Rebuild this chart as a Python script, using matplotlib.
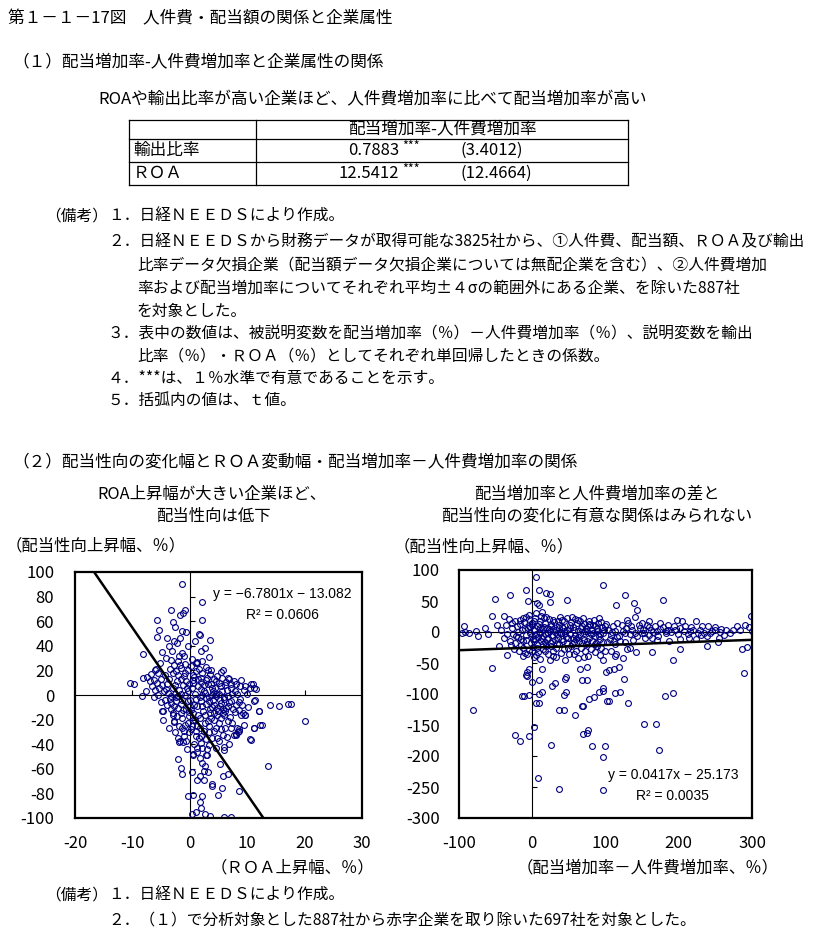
import matplotlib
matplotlib.use("Agg")
import matplotlib.pyplot as plt
from matplotlib.lines import Line2D
import numpy as np

plt.rcParams['font.family'] = ['Noto Sans CJK JP', 'DejaVu Sans']
plt.rcParams['axes.unicode_minus'] = False

# 表のデータ
table_head = '配当増加率-人件費増加率'
table_rows = ['輸出比率', 'ＲＯＡ']
table_coef = ['0.7883', '12.5412']
table_sig = ['***', '***']
table_tval = ['(3.4012)', '(12.4664)']

# 回帰式
left_slope, left_icpt, left_r2 = -6.7801, -13.082, 0.0606
right_slope, right_icpt, right_r2 = 0.0417, -25.173, 0.0035

# 左図: ROA上昇幅 vs 配当性向上昇幅 (目視で読み取り)
roa_pts = [
    (-1.4, 90), (2.2, 76), (-0.9, 69), (-3.2, 69), (-1.2, 67), (-1.7, 65), (2.2, 61), (-5.8, 61),
    (-3.0, 59), (-5.3, 53), (-3.9, 46), (-1.4, 52), (-0.6, 51), (1.6, 50), (1.8, 49), (-5.8, 47),
    (-2.7, 44), (-1.7, 46), (-2.3, 42), (1.9, 36), (3.4, 31), (-8.2, 33), (-4.9, 35), (-3.1, 36),
    (-1.3, 34), (-1.0, 32), (1.2, 27), (5.4, 19), (-9.8, 9), (-10.5, 10), (-8.3, -0.5), (-8.2, 14),
    (-7.4, 15), (-5.9, 21), (-4.8, -13), (-3.0, -15), (-2.7, -22),
    (7.7, 11), (8.8, 7), (8.6, -6), (9.2, -15), (9.7, -16), (10.5, 6), (11.0, 9), (11.5, 5),
    (11.3, -4), (12.1, -13), (13.9, -8), (15.6, -9), (17.1, -7), (17.7, -7), (20.0, -21), (11.2, -27),
    (12.5, -24), (10.5, -36), (8.5, -28), (8.4, -30), (8.0, -32), (13.6, -58), (8.6, -78),
    (-2.1, -35), (-1.1, -38), (-1.9, -38), (-2.1, -52), (-1.6, -59), (-1.3, -64), (0.3, -63), (0.5, -48),
    (1.2, -46), (-0.4, -82), (0.6, -81), (2.2, -82), (1.7, -87), (1.9, -92), (0.4, -97), (1.0, -95),
    (2.7, -97), (3.6, -98), (5.9, -99), (7.1, -99),
    (1.8, -51), (2.1, -55), (2.6, -58), (2.4, -62), (1.8, -66), (1.3, -69), (2.5, -69), (3.0, -49),
    (3.1, -63), (3.8, -72), (3.8, -74), (4.9, -81), (5.6, -76), (5.8, -66), (5.3, -56), (6.0, -45),
    (6.7, -64),
    (-6.1, 20.6), (-5.6, 17.9), (-6.2, 12.5), (-5.7, 9.8), (-5.3, 5.7), (-4.8, 8.4), (-4.5, 3.0), (-6.1, 4.3),
    (-3.3, 28.7), (-2.7, 24.7), (-1.9, 31.4), (-1.6, 22.0), (-2.4, 19.3), (-2.0, 16.6), (-1.0, 15.3),
    (-0.4, 20.6), (0.2, 23.3), (-0.7, 11.3), (-0.1, 8.6), (0.5, 12.6), (0.5, 16.6), (1.0, 19.3), (1.3, 26.0),
    (1.9, 10.2), (2.8, 12.6), (3.7, 8.6), (4.5, 11.3), (5.4, 7.0), (6.3, 10.2), (7.1, 5.7), (8.0, 8.6),
    (8.9, 12.6), (9.7, 7.0), (10.6, 8.6), (11.2, 5.7), (3.1, 20.6), (2.2, 17.9), (1.0, 26.0), (2.2, 27.4),
    (3.7, 20.6), (4.8, 15.3), (5.7, 20.6), (6.6, 14.0),
    (-4.7, -13.3), (-3.0, -16.0), (-2.7, -21.5), (-2.1, -10.6), (-1.6, -14.7), (-1.9, -25.5), (-1.3, -26.9),
    (-1.0, -33.7), (-1.7, -37.8), (-0.7, -37.8), (-1.0, -29.6), (-0.4, -22.8), (-0.1, -17.4), (0.2, -12.0),
    (0.8, -7.9), (0.5, -20.1), (1.3, -25.5), (1.0, -29.6), (1.6, -35.0), (1.9, -39.1), (2.2, -43.2),
    (1.3, -43.2), (0.5, -48.6), (2.8, -48.6), (2.5, -29.6), (3.4, -25.5), (3.7, -18.8), (4.2, -14.7),
    (4.8, -10.6), (5.4, -6.5), (6.0, -16.0), (6.6, -21.5), (7.1, -26.9), (7.7, -32.3), (5.7, -32.3),
    (5.1, -37.8), (4.5, -26.9), (3.9, -35.0), (3.4, -40.5), (4.5, -43.2), (5.4, -18.8), (6.3, -10.6),
    (7.1, -5.2), (8.0, -7.9), (8.6, -12.0), (8.9, -16.0), (8.3, -26.9), (9.4, -24.2), (9.7, -16.0),
    (8.0, -32.3), (8.6, -29.6), (10.6, -36.4), (11.2, -26.9), (12.3, -24.2), (11.2, -4.6), (12.0, -13.3),
    (3.4, -5.2), (2.8, -2.5), (1.9, -5.2), (-0.4, -5.2), (-1.3, -3.8), (-2.4, -5.2), (-3.3, -6.5),
    (-3.8, 2), (-3.5, -3), (-3.0, 6), (-2.8, -9), (-2.5, 1), (-2.2, 11), (-2.0, -1), (-1.8, 4),
    (-1.5, -7), (-1.2, 8), (-0.9, 0), (-0.6, -11), (-0.3, 3), (0.0, -4), (0.3, 6), (0.6, -15),
    (0.9, 1), (1.2, -9), (1.5, 13), (1.7, -2), (2.0, 5), (2.3, -13), (2.6, 2), (2.9, -7),
    (3.2, 9), (3.5, -11), (3.8, 0), (4.1, -4), (4.4, 6), (4.7, -16), (5.0, 1), (5.3, -9),
    (5.6, 3), (5.9, -2), (6.2, -13), (6.5, 4), (6.8, -6), (7.3, 1), (7.6, -11), (-3.6, 13),
    (-2.9, 18), (-1.7, 24), (-0.8, 18), (0.8, 15), (1.6, 21), (2.4, 8), (3.0, 14), (4.0, 3),
    (4.6, -1), (5.1, 10), (6.0, -3), (0.4, -25), (1.7, -19), (2.6, -23), (3.3, -30), (4.2, -20),
    (5.0, -23), (6.1, -27), (-0.2, -30), (1.1, -33), (2.9, -36), (-4.0, -8), (-3.9, 9), (-4.3, 16),
    (-5.0, 13), (-4.4, -4), (-5.5, 0), (-6.6, 7), (-7.0, 11), (-3.2, -11), (-2.3, -17), (0.1, -9),
    (1.4, -16), (2.1, 0), (3.6, -15), (4.9, -13), (5.8, -11), (7.0, -18), (7.4, -23), (9.1, -8),
    (9.9, 1), (10.2, -10), (6.9, 13), (7.9, 3),
    (-4.6, -20), (-3.7, -27), (-2.6, -30), (-1.4, -19), (-0.8, -24), (0.2, -28), (0.9, -20), (1.8, -27),
    (2.7, -16), (3.1, -21), (3.9, -10), (4.3, -29), (4.8, -35), (5.5, -28), (6.4, -34), (6.9, -40),
    (5.9, -42), (3.0, -44), (-0.5, -44), (0.7, -40), (2.0, -33), (-3.4, 21), (-2.1, 28), (-0.9, 25),
    (0.4, 29), (1.9, 14), (2.8, 23), (3.6, 17), (4.2, 13), (5.6, 14), (6.2, 8), (7.2, 9),
    (8.3, 1), (9.4, 4), (8.7, -3), (7.8, -14), (6.6, -9), (5.2, -4), (4.3, -8), (3.3, -2),
    (2.4, 3), (1.4, 7), (0.6, 10), (-0.5, 6), (-1.5, 13), (-2.6, 8), (-3.3, -1), (-4.1, 5),
    (-5.1, -6), (-6.3, -2), (-7.6, 3), (-6.8, 17), (-5.2, 26), (-4.2, 30), (-3.7, 40), (-2.5, 55),
    (-0.3, 40), (0.9, 44), (3.5, 45), (2.6, 38), (-1.1, -12), (-0.2, -14), (1.0, -3), (2.2, -9),
    (3.9, 6), (4.6, 1), (5.7, -15), (6.7, -1), (-2.4, -2), (-1.6, 1),
]

# 右図: 配当増加率-人件費増加率 vs 配当性向上昇幅 (目視で読み取り)
gap_pts = [
    (5.6, 89), (96.6, 76), (9, 68), (-9, 67), (19, 63), (24, 61), (-30, 59), (126, 60), (-51, 53),
    (48, 52), (179, 52), (-6, 50), (114, 44), (139, 46), (143, 35), (7, 46), (9, 44), (24, 49),
    (-55, 26), (-39, 26), (-32, 21), (-48, 11), (-93, 10), (-96, -1), (-92, 0.5), (-77, 2), (-74, -6),
    (298, 26), (300, 2), (274, 4), (280, 10), (291, 11), (296, 8), (287, -28), (293, -24), (289, -66),
    (-55, -58), (-35, -37), (-81, -126), (-24, -166), (-17, -175), (-4, -167), (2, -153), (-11, -104),
    (-4, -102), (5, -114), (8, -235), (26, -183), (37, -253), (37, -126), (43, -125), (43, -101),
    (46, -97), (59, -134), (69, -119), (68, -120), (69, -165), (75, -163), (76, -158), (82, -184),
    (78, -108), (84, -105), (91, -97), (96, -95), (97, -91), (97, -201), (99, -184), (97, -255),
    (102, -112), (-14, -104),
    (-5, -60), (-7, -64), (-7, -71), (-1, -80), (13, -60), (9, -77), (-12, -39), (13, -96), (9, -100),
    (-8, -69), (9, -115), (68, -77), (75, -77), (65, -60), (75, -56), (46, -72), (45, -75), (31, -83),
    (27, -87), (100, -64), (105, -61), (112, -60), (119, -57), (125, -75), (113, -98), (120, -96),
    (105, -112), (131, -114), (152, -148), (169, -148), (173, -190), (181, -104), (192, -98), (192, -45),
    (202, -27), (163, -33), (238, -23), (253, -16), (170, -13),
    (202, -11), (214, -10), (224, -12), (234, -2), (243, -2), (249, 3), (256, 0), (197, 19), (208, 9),
    (224, 18), (229, 4), (215, 2), (193, 10), (190, -0.5), (174, 5), (165, 0), (160, 8), (151, 4),
    (146, 11), (135, 10), (128, 6), (116, 14), (109, 0), (101, 13), (107, -5), (116, -8), (124, 2),
    (133, -3), (140, -1), (150, -2), (160, -5), (170, 2), (182, -2), (186, 4), (202, 6), (212, -3),
    (220, 3), (230, -5), (238, -7), (187, -14), (163, -10), (154, -10), (138, -13), (126, -16),
    (120, -14), (113, -20), (129, -28), (124, -42), (113, -39), (115, -35), (134, -26), (141, -32),
    (102, -16), (111, -15), (150, 15), (175, 15), (185, 12), (130, 20), (140, 24), (160, 18), (205, 18),
    (250, 8), (265, 3), (262, -5), (283, 4), (255, -10), (240, 10),
    (-38, -10), (-34, -4), (-31, -14), (-27, 6), (-26, -3), (-23, -17), (-21, 9), (-19, -8), (-17, 13),
    (-16, -21), (-14, 3), (-12, -26), (-11, 16), (-9, -5), (-8, -13), (-6, 6), (-5, -29), (-4, 21),
    (-3, -2), (-2, -18), (-1, 11), (0, -7), (1, -24), (2, 4), (3, 17), (4, -11), (5, -3), (6, 9),
    (7, -19), (8, -33), (9, 13), (10, -1), (12, -15), (12, 26), (14, 5), (15, -7), (15, -27), (17, 14),
    (18, -3), (18, -16), (20, 7), (21, -36), (22, -10), (23, 21), (24, 1), (25, -22), (26, 10), (27, -5),
    (28, -31), (30, 16), (31, -13), (32, 3), (33, -41), (34, -4), (36, 12), (37, -20), (38, 25), (39, -1),
    (41, -11), (42, 6), (43, -28), (44, 17), (46, -8), (47, -17), (48, 4), (50, -35), (51, 12), (52, -3),
    (53, -23), (55, 8), (56, -10), (58, 21), (59, -5), (60, -31), (61, 14), (63, 1), (64, -15), (66, 6),
    (67, -26), (68, 10), (70, -2), (71, -13), (73, 7), (74, -20), (75, 2), (77, 13), (78, -9), (80, -27),
    (81, 4), (82, -15), (84, 19), (85, -6), (86, 9), (88, -22), (89, 1), (90, 15), (92, -11), (93, -3),
    (95, 8), (96, -16), (98, 3), (99, -30),
    (-36, 12), (-29, -21), (-24, 18), (-18, -30), (-13, 22), (-7, -36), (-4, 28), (2, -40), (5, 30),
    (11, -44), (13, 32), (19, 24), (28, -38), (35, 18), (45, -45), (54, 25), (62, -42), (69, 22),
    (76, -38), (83, -2), (91, 22), (97, -45),
    (-20, 0), (-15, -12), (-10, 5), (-5, 10), (0, 15), (3, -15), (6, -25), (9, 0), (11, 7), (13, -9),
    (16, 22), (19, -22), (22, -2), (25, 13), (27, -14), (29, 5), (32, -25), (35, -10), (38, 0), (40, 8),
    (45, -1), (49, -26), (53, 16), (57, -16), (62, -8), (65, 18), (72, -31), (79, 11), (87, -18), (94, -25),
    (-28, 14), (-22, -6), (-17, 20), (-12, -15), (-9, 24), (-3, 8), (1, -12), (4, 22), (8, -8), (10, 18),
    (14, -20), (16, 8), (20, -12), (23, 5), (26, -17), (29, 19), (31, 0), (34, -19), (36, 6), (40, 20),
    (42, -14), (44, 1), (47, 23), (49, -9), (52, 7), (54, -19), (57, 3), (60, -12), (62, 20), (65, -4),
    (68, -18), (70, 13), (72, 1), (75, -14), (78, 18), (80, -3), (83, 12), (86, -20), (88, 6), (91, -7),
    (94, 16), (96, -1), (99, 10), (103, 4), (106, -12), (110, 9), (113, 1), (118, -6), (122, 11), (127, -2),
    (131, 14), (136, 3), (143, -6), (147, 7), (153, -1), (157, 12), (162, 3), (168, 10), (172, -7),
    (178, 8), (183, 1), (195, 3), (199, -4), (207, 1), (217, 8), (226, -1), (232, 9), (246, 1), (258, 5),
    (270, -1), (-45, -22), (-42, 4), (-60, -3), (-65, 7), (-86, -2), (-25, -28), (-10, -34), (0, -30),
    (5, -37), (17, -30), (24, -45), (39, -34), (57, -36), (71, -40), (85, -33), (93, -37), (108, -30),
]

notes_top = [
    (108, 216, '１．日経ＮＥＥＤＳにより作成。'),
    (108, 242, '２．日経ＮＥＥＤＳから財務データが取得可能な3825社から、①人件費、配当額、ＲＯＡ及び輸出'),
    (137, 265, '比率データ欠損企業（配当額データ欠損企業については無配企業を含む）、②人件費増加'),
    (137, 288, '率および配当増加率についてそれぞれ平均±４σの範囲外にある企業、を除いた887社'),
    (137, 311, 'を対象とした。'),
    (108, 334, '３．表中の数値は、被説明変数を配当増加率（％）－人件費増加率（％）、説明変数を輸出'),
    (137, 356, '比率（％）・ＲＯＡ（％）としてそれぞれ単回帰したときの係数。'),
    (108, 378, '４．***は、１％水準で有意であることを示す。'),
    (108, 400, '５．括弧内の値は、ｔ値。'),
]
notes_bottom = [
    (108, 895, '１．日経ＮＥＥＤＳにより作成。'),
    (108, 920, '２．（１）で分析対象とした887社から赤字企業を取り除いた697社を対象とした。'),
]

W, H = 834, 940
fig = plt.figure(figsize=(W / 100, H / 100), dpi=100)


def put(x, y, s, size=11.3, ha='left', va='center', **kw):
    fig.text(x / W, 1 - y / H, s, fontsize=size, ha=ha, va=va, **kw)


def seg(x0, y0, x1, y1, lw=1.0):
    fig.add_artist(Line2D([x0 / W, x1 / W], [1 - y0 / H, 1 - y1 / H], color='black', lw=lw))


# 見出し
put(8, 19, '第１－１－17図　人件費・配当額の関係と企業属性', 12)
put(12, 62, '（１）配当増加率-人件費増加率と企業属性の関係', 12)
put(373, 100, 'ROAや輸出比率が高い企業ほど、人件費増加率に比べて配当増加率が高い', 12, ha='center')

# 表
tl, tr, tc = 129, 628, 256
ty = [120, 139, 162, 185]
for y in ty:
    seg(tl, y, tr, y, lw=0.9)
seg(tl, ty[0], tl, ty[-1], lw=0.9)
seg(tr, ty[0], tr, ty[-1], lw=0.9)
seg(tc, ty[0], tc, ty[-1], lw=0.9)
put(442, 129, table_head, 12, ha='center')
for i in range(len(table_rows)):
    yc = (ty[i + 1] + ty[i + 2]) / 2
    put(133, yc, table_rows[i], 12)
    put(399, yc, table_coef[i], 12, ha='right')
    put(402, yc - 4, table_sig[i], 9)
    put(460, yc, table_tval[i], 12)

# 備考
put(108, 216, '（備考）', 11.3, ha='right')
for x, y, s in notes_top:
    put(x, y, s)

put(12, 462, '（２）配当性向の変化幅とＲＯＡ変動幅・配当増加率－人件費増加率の関係', 12)
put(212, 494, 'ROA上昇幅が大きい企業ほど、', 11.8, ha='center')
put(213, 516, '配当性向は低下', 11.8, ha='center')
put(597, 494, '配当増加率と人件費増加率の差と', 11.8, ha='center')
put(597, 516, '配当性向の変化に有意な関係はみられない', 11.8, ha='center')
put(6, 546, '（配当性向上昇幅、％）', 11.8)
put(394, 547, '（配当性向上昇幅、％）', 11.8)
put(292, 868, '（ＲＯＡ上昇幅、％）', 11.8, ha='center')
put(648, 868, '（配当増加率－人件費増加率、％）', 11.8, ha='center')

put(108, 895, '（備考）', 11.3, ha='right')
for x, y, s in notes_bottom:
    put(x, y, s)


def scatter_panel(rect, pts, xlim, ylim, xticks, yticks, slope, icpt, pad_y):
    ax = fig.add_axes([rect[0] / W, 1 - rect[3] / H, (rect[2] - rect[0]) / W, (rect[3] - rect[1]) / H])
    arr = np.array(pts, dtype=float)
    ax.axhline(0, color='black', lw=0.8, zorder=1)
    ax.axvline(0, color='black', lw=0.8, zorder=1)
    inner_y = [v for v in yticks if v not in (0, ylim[0], ylim[1])]
    inner_x = [v for v in xticks if v not in (0, xlim[0], xlim[1])]
    ax.plot(np.zeros(len(inner_y)), inner_y, ls='none', marker=1, ms=3.5, mew=0.8, color='black', zorder=1)
    ax.plot(inner_x, np.zeros(len(inner_x)), ls='none', marker=2, ms=3.5, mew=0.8, color='black', zorder=1)
    ax.plot(arr[:, 0], arr[:, 1], ls='none', marker='o', ms=4.2, mfc='none', mec='#000080', mew=0.8, zorder=2)
    xs = np.array(xlim, dtype=float)
    ax.plot(xs, slope * xs + icpt, color='black', lw=1.8, zorder=3)
    ax.set_xlim(xlim)
    ax.set_ylim(ylim)
    ax.set_xticks(xticks)
    ax.set_yticks(yticks)
    ax.tick_params(length=0, labelsize=12)
    ax.tick_params(axis='y', pad=pad_y)
    ax.tick_params(axis='x', pad=12)
    for sp in ax.spines.values():
        sp.set_linewidth(1.6)
    return ax


axl = scatter_panel((75, 572, 362, 818), roa_pts, (-20, 30), (-100, 100),
                    [-20, -10, 0, 10, 20, 30], list(range(-100, 101, 20)),
                    left_slope, left_icpt, 15)
axr = scatter_panel((459, 570, 752, 818), gap_pts, (-100, 300), (-300, 100),
                    [-100, 0, 100, 200, 300], list(range(-300, 101, 50)),
                    right_slope, right_icpt, 14)

eqfont = ['Liberation Sans', 'DejaVu Sans']
put(352, 594, 'y = −6.7801x − 13.082', 10, ha='right', family=eqfont)
put(282, 615, 'R² = %.4f' % left_r2, 10, ha='center', family=eqfont)
put(738, 775, 'y = 0.0417x − 25.173', 10, ha='right', family=eqfont)
put(672, 796, 'R² = %.4f' % right_r2, 10, ha='center', family=eqfont)

fig.savefig('out.png', dpi=100)
